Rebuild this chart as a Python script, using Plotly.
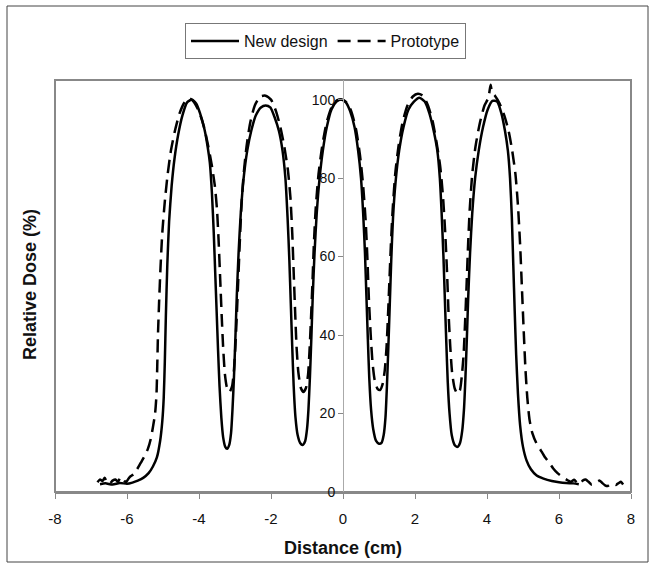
import plotly.graph_objects as go

# ---------------- data ----------------
new_x = [-6.75, -6.6, -6.4, -6.2, -6.0, -5.85, -5.7, -5.55, -5.4, -5.28, -5.17, -5.08, -5.02, -4.98,
         -4.95, -4.92, -4.88, -4.83, -4.76, -4.68, -4.58, -4.46, -4.33, -4.2, -4.08, -3.97, -3.85,
         -3.76, -3.7, -3.64, -3.59, -3.55, -3.51, -3.47, -3.43, -3.38, -3.33, -3.27, -3.22, -3.16,
         -3.11, -3.07, -3.03, -2.99, -2.95, -2.9, -2.84, -2.76, -2.66, -2.55, -2.42, -2.28, -2.15,
         -2.02, -1.9, -1.78, -1.68, -1.6, -1.54, -1.49, -1.45, -1.41, -1.37, -1.32, -1.26, -1.19,
         -1.12, -1.05, -1.0, -0.96, -0.92, -0.88, -0.84, -0.79, -0.73, -0.65, -0.56, -0.45, -0.32,
         -0.18, -0.05, 0.08, 0.2, 0.32, 0.42, 0.5, 0.56, 0.61, 0.65, 0.69, 0.73, 0.78, 0.84, 0.92,
         1.0, 1.07, 1.13, 1.18, 1.22, 1.26, 1.3, 1.34, 1.39, 1.46, 1.56, 1.68, 1.82, 1.97, 2.12,
         2.27, 2.4, 2.52, 2.62, 2.69, 2.74, 2.79, 2.83, 2.87, 2.91, 2.96, 3.02, 3.1, 3.18, 3.25,
         3.31, 3.36, 3.4, 3.44, 3.48, 3.53, 3.59, 3.67, 3.77, 3.89, 4.02, 4.15, 4.28, 4.4, 4.5,
         4.58, 4.64, 4.69, 4.73, 4.77, 4.81, 4.86, 4.92, 5.0, 5.1, 5.22, 5.38, 5.57, 5.8, 6.0,
         6.2, 6.4, 6.55]
new_y = [2.0, 2.2, 1.9, 2.3, 2.1, 2.4, 2.9, 3.6, 4.8, 6.5, 8.8, 13, 18, 24,
         33, 45, 58, 69, 78, 85, 91, 96, 99.3, 100, 99, 96.5, 92.5,
         88, 84, 76, 66, 56, 46, 36, 27, 19, 14, 11.5, 11, 12,
         15, 21, 29, 39, 50, 61, 71, 80, 87, 92, 96, 98, 98.5,
         98, 95.5, 92, 87, 80, 70, 59, 48, 37, 27, 19, 14.5, 12.5,
         12, 13, 16, 21, 29, 39, 50, 61, 71, 80, 87, 93, 97.5,
         99.5, 100, 99.3, 97, 93, 87, 80, 71, 61, 50, 39, 29, 21, 16, 13,
         12.3, 12.5, 14.5, 19, 27, 37, 48, 59, 70, 79, 87, 93, 97.5, 99.5, 100.5,
         99.5, 96.5, 92, 87, 80, 71, 60, 49, 38, 28, 20, 14.5, 12, 11.5, 12.5,
         15.5, 21, 29, 39, 50, 61, 71, 80, 87, 93, 97.5, 99.7, 99.5, 96.5, 92,
         87, 80, 70, 58, 46, 35, 25, 17, 11.5, 8, 5.8, 4.2, 3.4, 2.8, 2.5,
         2.3, 2.2, 2.0]

proto_x = [-6.82, -6.75, -6.68, -6.62, -6.55, -6.48, -6.4, -6.32, -6.25, -6.18, -6.1, -6.03, -5.96,
           -5.9, -5.82, -5.72, -5.62, -5.52, -5.42, -5.34, -5.28, -5.22, -5.18, -5.16, -5.14, -5.11,
           -5.07, -5.02, -4.95, -4.87, -4.78, -4.67, -4.54, -4.4, -4.27, -4.15, -4.0, -3.86, -3.74,
           -3.64, -3.56, -3.5, -3.45, -3.41, -3.37, -3.33, -3.28, -3.22, -3.15, -3.08, -3.03, -2.99,
           -2.95, -2.91, -2.87, -2.82, -2.76, -2.68, -2.58, -2.45, -2.3, -2.15, -2.0, -1.86, -1.74,
           -1.63, -1.53, -1.46, -1.41, -1.37, -1.33, -1.29, -1.24, -1.17, -1.1, -1.03, -0.97, -0.93,
           -0.89, -0.85, -0.81, -0.76, -0.68, -0.58, -0.46, -0.32, -0.17, -0.03, 0.1, 0.23, 0.36,
           0.47, 0.56, 0.63, 0.68, 0.72, 0.77, 0.82, 0.88, 0.96, 1.03, 1.1, 1.16, 1.21, 1.25, 1.29,
           1.33, 1.38, 1.45, 1.54, 1.65, 1.79, 1.94, 2.08, 2.22, 2.36, 2.49, 2.6, 2.7, 2.78, 2.84,
           2.89, 2.93, 2.98, 3.03, 3.1, 3.18, 3.25, 3.3, 3.35, 3.39, 3.43, 3.47, 3.52, 3.59, 3.68,
           3.8, 3.93, 4.04, 4.1, 4.14, 4.22, 4.35, 4.48, 4.6, 4.7, 4.79, 4.86, 4.92, 4.97, 5.02,
           5.07, 5.12, 5.18, 5.26, 5.37, 5.49, 5.6, 5.71, 5.84, 5.96, 6.1, 6.24, 6.33, 6.42, 6.5,
           6.58, 6.66, 6.74, 6.82, 6.9, 6.98, 7.06, 7.13, 7.2, 7.28, 7.35, 7.42, 7.5, 7.58, 7.66,
           7.72, 7.78]
proto_y = [2.5, 3.2, 2.8, 3.6, 2.4, 2.1, 2.9, 3.2, 2.6, 3.8, 3.1, 2.5, 3.4,
           4.0, 4.5, 5.8, 7.4, 9, 11, 13.5, 16.5, 20, 25, 32, 40, 48,
           57, 66, 74, 81, 87, 92, 96.5, 99.3, 100.3, 99.5, 97, 93, 88,
           83, 78, 72, 63, 54, 45, 37, 30, 26.5, 25.5, 27, 31, 37,
           45, 54, 63, 73, 81, 88, 94, 98.5, 100.8, 101, 100, 97, 93,
           88, 82, 75, 66, 56, 46, 37, 30.5, 26.5, 25.5, 26.5, 30, 36,
           44, 53, 63, 72, 81, 88, 94, 98, 99.8, 100, 99.3, 97, 92.5,
           86, 78, 69, 59, 49, 40, 33, 28.5, 26.3, 26, 27.5, 31, 37, 45, 54,
           63, 72, 81, 88, 94, 98.5, 100.8, 101.5, 101, 98.5, 94.5, 89, 83, 75, 66,
           56, 46, 37, 30.5, 26.5, 25, 26, 29.5, 35, 43, 52, 62, 72, 81, 88,
           94, 98.5, 100.5, 103.8, 101.8, 101, 99, 96, 92, 87, 81, 73, 63, 52, 41,
           31, 24, 18.5, 15, 12.5, 10.7, 9, 7.7, 6, 4.8, 3.8, 3.0, 2.6, 3.1, 2.4,
           2.0, 2.9, 3.2, 2.6, 1.9, 2.1, 2.6, 2.9, 2.3, 1.7, 1.5, 1.9, 2.1, 1.8, 2.3,
           2.6, 1.9]

series_names = ["New design", "Prototype"]
x_ticks = [-8, -6, -4, -2, 0, 2, 4, 6, 8]
y_ticks = [0, 20, 40, 60, 80, 100]
x_title = "Distance (cm)"
y_title = "Relative Dose (%)"

FONT = "Arial, 'Liberation Sans', Helvetica, sans-serif"

fig = go.Figure()
fig.add_trace(go.Scatter(x=new_x, y=new_y, mode="lines", name=series_names[0],
                         line=dict(color="black", width=2.5, shape="spline", smoothing=0.6)))
fig.add_trace(go.Scatter(x=proto_x, y=proto_y, mode="lines", name=series_names[1],
                         line=dict(color="black", width=2.5, dash="13px,7px",
                                   shape="spline", smoothing=0.6)))

W, H = 657, 569
L, R, T, B = 55, 26, 80, 77
pw, ph = W - L - R, H - T - B

def px_x(X):
    return (X - L) / pw

def px_y(Y):
    return (H - B - Y) / ph

fig.update_layout(
    width=W, height=H,
    margin=dict(l=L, r=R, t=T, b=B),
    paper_bgcolor="white", plot_bgcolor="white",
    font=dict(family=FONT, size=14, color="#111"),
    showlegend=True,
    legend=dict(orientation="h", x=px_x(185), y=px_y(23), xanchor="left", yanchor="top",
                bordercolor="#777", borderwidth=1, bgcolor="white",
                font=dict(family=FONT, size=16, color="#111"),
                itemwidth=48, tracegroupgap=0),
    xaxis=dict(range=[-8, 8], tickvals=x_ticks, ticktext=[str(v) for v in x_ticks],
               showgrid=False, zeroline=False, showline=True, linecolor="#888", linewidth=2,
               ticks="outside", ticklen=5, tickcolor="#888", tickwidth=1,
               ticklabelstandoff=7,
               tickfont=dict(family=FONT, size=15, color="#111")),
    yaxis=dict(range=[0, 105], tickvals=y_ticks, ticktext=[str(v) for v in y_ticks],
               anchor="free", position=0.5, showgrid=False, zeroline=False,
               showline=True, linecolor="#aaa", linewidth=1,
               ticks="outside", ticklen=5, tickcolor="#888", tickwidth=1,
               tickfont=dict(family=FONT, size=14, color="#111")),
    shapes=[
        dict(type="rect", xref="paper", yref="paper", x0=0, x1=1, y0=0, y1=1,
             line=dict(color="#888", width=2), layer="below"),
        dict(type="rect", xref="paper", yref="paper",
             x0=px_x(7), x1=px_x(648), y0=px_y(562), y1=px_y(6),
             line=dict(color="#444", width=1)),
    ],
    annotations=[
        dict(text="<b>" + x_title + "</b>", xref="paper", yref="paper",
             x=px_x(343), y=px_y(548), xanchor="center", yanchor="middle", showarrow=False,
             font=dict(family=FONT, size=18, color="#111")),
        dict(text="<b>" + y_title + "</b>", xref="paper", yref="paper",
             x=px_x(30), y=px_y(285), xanchor="center", yanchor="middle",
             showarrow=False, textangle=-90,
             font=dict(family=FONT, size=18, color="#111")),
    ],
)

fig.write_html("out.html")
